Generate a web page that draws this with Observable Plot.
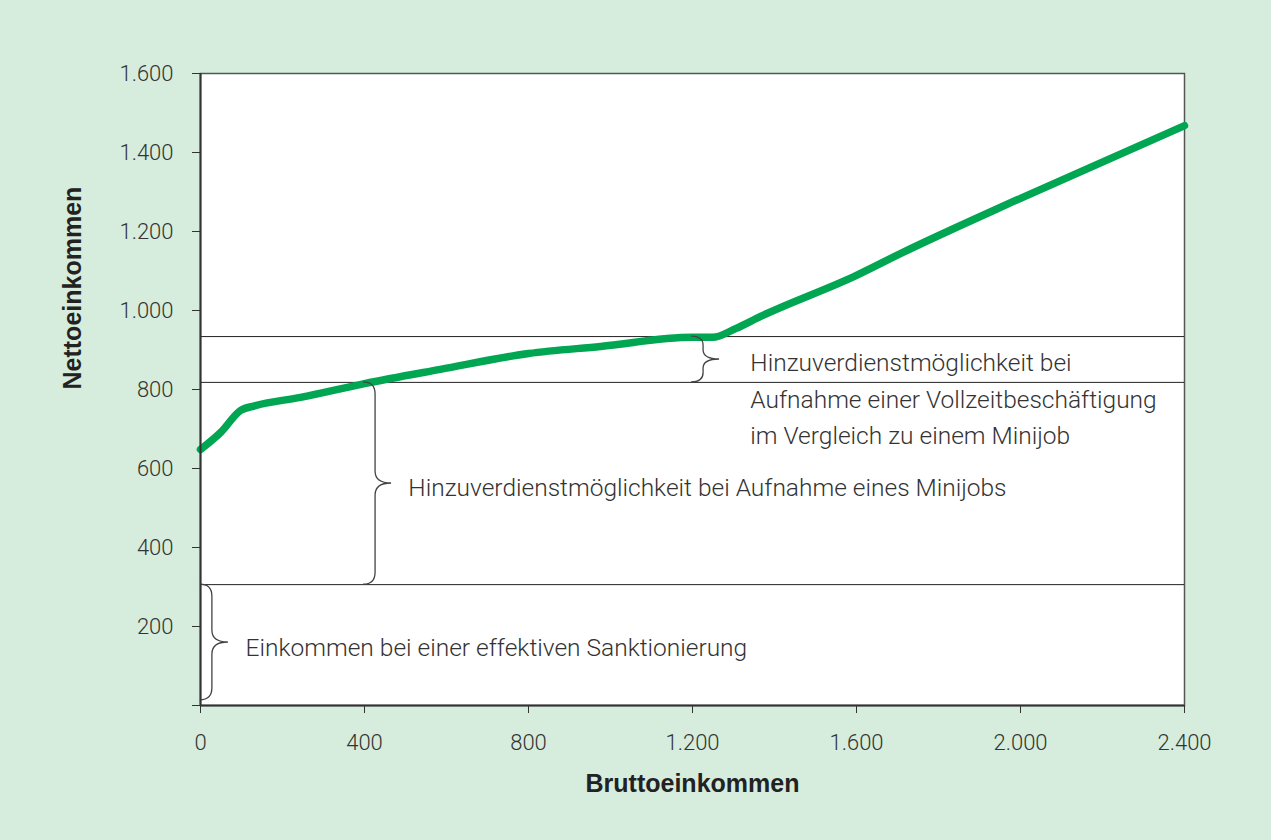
<!DOCTYPE html>
<html>
<head>
<meta charset="utf-8">
<script src="https://cdn.jsdelivr.net/npm/d3@7"></script>
<script src="https://cdn.jsdelivr.net/npm/@observablehq/plot@0.6"></script>
<style>
  html, body { margin: 0; padding: 0; background: #d6ecdc; }
  #chart { width: 1271px; height: 840px; }
</style>
</head>
<body>
<div id="chart"></div>
<script>
// Gross income (x) vs. net income (y)
const brutto = [0, 49, 98, 134, 244, 400, 585, 800, 976, 1200, 1249, 1305, 1366, 1600, 1707, 2000, 2400];
const netto  = [648, 691, 747, 759, 780, 815, 851, 891, 909, 932, 932, 954, 985, 1089, 1144, 1284, 1468];

// reference levels (horizontal rules)
const levels = [306, 818, 934];

// braces: x position (gross income) and vertical span (net income)
const braceX    = [1227, 427, 29];
const braceLow  = [818, 306, 13];
const braceHigh = [934, 818, 306];

// annotation texts and anchors
const labelText = [
  "Hinzuverdienstmöglichkeit bei\nAufnahme einer Vollzeitbeschäftigung\nim Vergleich zu einem Minijob",
  "Hinzuverdienstmöglichkeit bei Aufnahme eines Minijobs",
  "Einkommen bei einer effektiven Sanktionierung"
];
const labelX = [1341, 507, 110];
const labelY = [784, 560, 155];

const xTicks = [0, 400, 800, 1200, 1600, 2000, 2400];
const yTicks = [0, 200, 400, 600, 800, 1000, 1200, 1400, 1600];

const de = d3.formatLocale({decimal: ",", thousands: ".", grouping: [3], currency: ["", " €"]});
const fmt = de.format(",");
const fmtY = d => d === 0 ? "" : fmt(d);

const lineData = brutto.map((b, i) => ({b, n: netto[i]}));
const braces = braceX.map((x, i) => ({x, lo: braceLow[i], hi: braceHigh[i]}));
const labels = labelText.map((t, i) => ({t, x: labelX[i], y: labelY[i]}));

const FONT = "Roboto, \"Helvetica Neue\", \"Liberation Sans\", sans-serif";
const BOLD = "\"Liberation Sans\", Arial, sans-serif";

function braceMark(index, scales) {
  const ns = "http://www.w3.org/2000/svg";
  const g = document.createElementNS(ns, "g");
  for (const br of braces) {
    const X = scales.x(br.x);
    const yT = scales.y(br.hi);
    const yB = scales.y(br.lo);
    const yM = (yT + yB) / 2;
    const h = yB - yT;
    const r = Math.min(12, h / 5);
    const w = Math.min(12, r * 1.6);
    const tip = Math.min(16, r * 1.8);
    const d = `M${X - w},${yT} Q${X},${yT} ${X},${yT + r} L${X},${yM - r} Q${X},${yM} ${X + tip},${yM} ` +
              `Q${X},${yM} ${X},${yM + r} L${X},${yB - r} Q${X},${yB} ${X - w},${yB}`;
    const p = document.createElementNS(ns, "path");
    p.setAttribute("d", d);
    p.setAttribute("fill", "none");
    p.setAttribute("stroke", "#444");
    p.setAttribute("stroke-width", "1.3");
    g.appendChild(p);
  }
  return g;
}

const chart = Plot.plot({
  width: 1271,
  height: 840,
  marginLeft: 200,
  marginRight: 87,
  marginTop: 73,
  marginBottom: 135,
  style: {background: "#d6ecdc", color: "#333", fontSize: "22px", fontFamily: FONT, fontWeight: 300},
  x: {domain: [0, 2400], label: null, axis: null},
  y: {domain: [0, 1600], label: null, axis: null},
  marks: [
    Plot.frame({fill: "white", stroke: "#555", strokeWidth: 1.5}),
    Plot.ruleY(levels, {stroke: "#222", strokeWidth: 1}),
    Plot.line(lineData, {x: "b", y: "n", stroke: "#00a651", strokeWidth: 7.5, curve: "monotone-x"}),
    braceMark,
    Plot.text(labels, {x: "x", y: "y", text: "t", textAnchor: "start", lineAnchor: "middle", lineHeight: 1.5, fontSize: 24.5, fontWeight: 300, fill: "#333"}),
    Plot.axisX({ticks: xTicks, tickFormat: fmt, tickSize: 8, tickPadding: 21, stroke: "#333", fontSize: 22, fill: "#333", label: null}),
    Plot.axisY({ticks: yTicks, tickFormat: fmtY, tickSize: 8, tickPadding: 19, stroke: "#333", fontSize: 22, fill: "#333", label: null}),
    Plot.ruleY([0], {stroke: "#333", strokeWidth: 2}),
    Plot.ruleX([0], {stroke: "#333", strokeWidth: 2}),
    Plot.text(["Bruttoeinkommen"], {frameAnchor: "bottom", dy: 86, fontWeight: "bold", fontSize: 25, fill: "#222", fontFamily: BOLD}),
    Plot.text(["Nettoeinkommen"], {frameAnchor: "left", dx: -128, rotate: -90, fontWeight: "bold", fontSize: 25, fill: "#222", fontFamily: BOLD})
  ]
});
document.getElementById("chart").appendChild(chart);
</script>
</body>
</html>
